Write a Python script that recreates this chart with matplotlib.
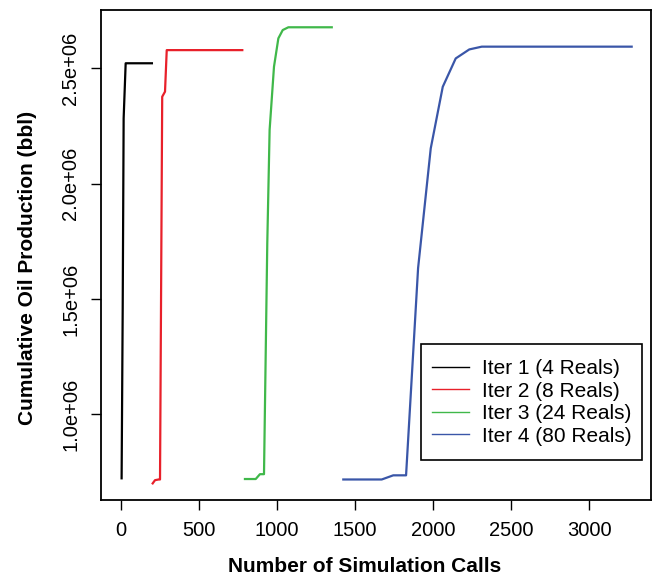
import matplotlib
matplotlib.use("Agg")
import matplotlib.pyplot as plt
from matplotlib.patches import Rectangle

plt.rcParams["font.family"] = ["Liberation Sans", "DejaVu Sans"]

# cumulative oil production vs number of simulation calls, per iteration
iter1_x = [6, 13, 19, 32, 200]
iter1_y = [0.723e6, 1.461e6, 2.283e6, 2.522e6, 2.522e6]

iter2_x = [205, 220, 243, 252, 266, 284, 295, 779]
iter2_y = [0.701e6, 0.715e6, 0.718e6, 0.718e6, 2.377e6, 2.399e6, 2.579e6, 2.579e6]

iter3_x = [796, 865, 892, 918, 939, 954, 982, 1010, 1038, 1074, 1352]
iter3_y = [0.720e6, 0.720e6, 0.741e6, 0.741e6, 1.741e6, 2.233e6, 2.507e6,
           2.630e6, 2.666e6, 2.678e6, 2.678e6]

iter4_x = [1426, 1672, 1746, 1828, 1905, 1986, 2063, 2146, 2233, 2313, 3273]
iter4_y = [0.718e6, 0.718e6, 0.736e6, 0.736e6, 1.634e6, 2.153e6, 2.420e6,
           2.543e6, 2.582e6, 2.594e6, 2.594e6]

labels = ["Iter 1 (4 Reals)", "Iter 2 (8 Reals)", "Iter 3 (24 Reals)", "Iter 4 (80 Reals)"]
colors = ["black", "#e8202a", "#40b84a", "#3a56a8"]

fig = plt.figure(figsize=(6.58, 5.8), dpi=100)
ax = fig.add_axes([0.1535, 0.1379, 0.8359, 0.8449])

series = [(iter1_x, iter1_y), (iter2_x, iter2_y), (iter3_x, iter3_y), (iter4_x, iter4_y)]
for (xs, ys), c in zip(series, colors):
    ax.plot(xs, ys, color=c, lw=1.6)

ax.set_xlim(-126, 3397)
ax.set_ylim(0.629e6, 2.753e6)

ax.set_xticks([0, 500, 1000, 1500, 2000, 2500, 3000])
ax.set_yticks([1.0e6, 1.5e6, 2.0e6, 2.5e6])
ax.set_yticklabels(["1.0e+06", "1.5e+06", "2.0e+06", "2.5e+06"], rotation=90, va="center")
ax.tick_params(labelsize=14.5, length=7, width=1, direction="out", pad=8)
for s in ax.spines.values():
    s.set_linewidth(1.3)

ax.set_xlabel("Number of Simulation Calls", fontsize=15, fontweight="bold")
ax.xaxis.set_label_coords(0.479, -0.116)
ax.set_ylabel("Cumulative Oil Production (bbl)", fontsize=15, fontweight="bold")
ax.yaxis.set_label_coords(-0.1163, 0.4745)

# legend box drawn separately so the padding matches the original
ax.add_patch(Rectangle((0.5818, 0.0816), 0.4024, 0.2362, transform=ax.transAxes,
                       facecolor="white", edgecolor="black", lw=1.2, zorder=4))
handles = [plt.Line2D([], [], color=c, lw=1) for c in colors]
leg = ax.legend(handles, labels, loc="center left", bbox_to_anchor=(0.601, 0.1994),
                borderaxespad=0, borderpad=0, fontsize=15, frameon=False,
                handlelength=1.8, handletextpad=0.6, labelspacing=0.17)
leg.set_zorder(5)

fig.savefig("out.png", dpi=100)
